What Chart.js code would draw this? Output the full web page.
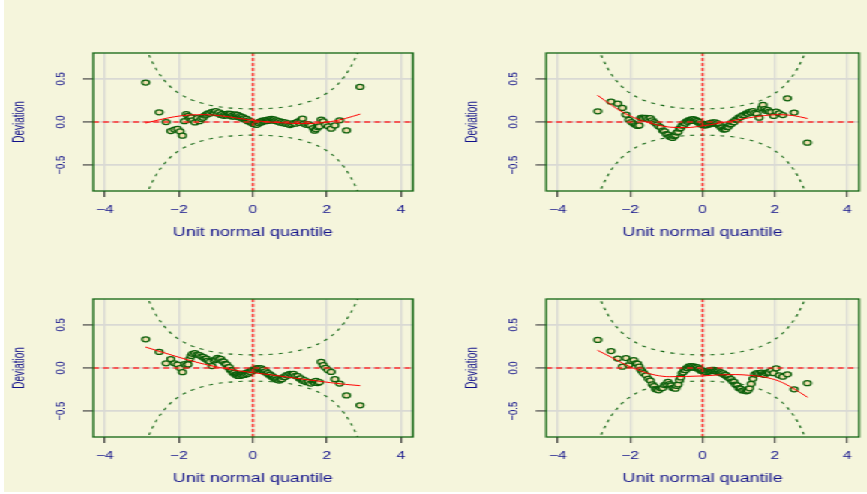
<!DOCTYPE html>
<html>
<head>
<meta charset="utf-8">
<title>Worm plots</title>
<script src="https://cdn.jsdelivr.net/npm/chart.js@4.4.1/dist/chart.umd.min.js"></script>
<style>
  html, body { margin: 0; padding: 0; background: #ffffff; overflow: hidden; }
  #page { position: absolute; left: 0; top: 0; width: 867px; height: 494px; }
  #bg { position: absolute; left: 4px; top: 0; width: 863px; height: 492px; background: #f5f5dc; }
  /* the panels are laid out on a 578px-wide stage that is widened 1.5x */
  #stage { position: absolute; left: 0; top: 0; width: 578px; height: 494px;
           transform: scaleX(1.5); transform-origin: 0 0; }
  #stage canvas { position: absolute; }
</style>
</head>
<body>
<div id="page">
  <div id="bg"></div>
  <div id="stage">
    <canvas id="wp1" width="289" height="247" style="left:0px;top:0px"></canvas>
    <canvas id="wp2" width="289" height="247" style="left:289px;top:0px"></canvas>
    <canvas id="wp3" width="289" height="247" style="left:0px;top:247px"></canvas>
    <canvas id="wp4" width="289" height="247" style="left:289px;top:247px"></canvas>
  </div>
</div>
<script>
// Axis setup
const xTicks = [-4, -2, 0, 2, 4];
const xTickLabels = ['\u22124', '\u22122', '0', '2', '4'];
const yTicks = [-0.5, 0, 0.5];
const yTickLabels = ['\u22120.5', '0.0', '0.5'];
const xRange = [-4.32, 4.32];
const yRange = [-0.8, 0.8];

// Unit normal quantiles of the ordered residuals (shared by all four panels)
const zq = [
  -2.894, -2.529, -2.343, -2.215, -2.116, -2.034, -1.963, -1.901, -1.846, -1.796,
  -1.750, -1.707, -1.668, -1.630, -1.562, -1.500, -1.444, -1.391, -1.342, -1.297,
  -1.254, -1.213, -1.155, -1.101, -1.050, -1.001, -0.955, -0.911, -0.868, -0.827,
  -0.787, -0.748, -0.711, -0.674, -0.639, -0.604, -0.570, -0.536, -0.504, -0.471,
  -0.440, -0.408, -0.377, -0.347, -0.316, -0.286, -0.256, -0.227, -0.197, -0.168,
  -0.139, -0.110, -0.081, -0.053, -0.024,
   0.024,  0.053,  0.081,  0.110,  0.139,  0.168,  0.197,  0.227,  0.256,  0.286,
   0.316,  0.347,  0.377,  0.408,  0.440,  0.471,  0.504,  0.536,  0.570,  0.604,
   0.639,  0.674,  0.711,  0.748,  0.787,  0.827,  0.868,  0.911,  0.955,  1.001,
   1.050,  1.101,  1.155,  1.213,  1.254,  1.297,  1.342,  1.391,  1.444,  1.500,
   1.562,  1.630,  1.668,  1.707,  1.750,  1.796,  1.846,  1.901,  1.963,  2.034,
   2.116,  2.215,  2.343,  2.529,  2.894
];

// Deviations (empirical minus unit normal quantile), one array per panel
const dev1 = [
   0.457,  0.112,  0.000, -0.105, -0.088, -0.080, -0.110, -0.158,  0.010,  0.090,
   0.070,  0.040,  0.055,  0.020, -0.005,  0.045,  0.010,  0.035,  0.050,  0.075,
   0.085,  0.100,  0.098,  0.118,  0.110,  0.125,  0.100,  0.112,  0.082,  0.095,
   0.072,  0.088,  0.075,  0.098,  0.085,  0.095,  0.065,  0.080,  0.062,  0.088,
   0.070,  0.082,  0.055,  0.068,  0.048,  0.058,  0.035,  0.045,  0.022,  0.035,
   0.010,  0.020,  0.000,  0.008, -0.015,
  -0.022, -0.030, -0.020, -0.032, -0.008, -0.015,  0.005, -0.005,  0.015,  0.005,
   0.020,  0.010,  0.025,  0.012,  0.030,  0.018,  0.035,  0.022,  0.030,  0.012,
   0.020,  0.002,  0.010, -0.008,  0.002, -0.015, -0.005, -0.022, -0.015, -0.035,
  -0.025, -0.012, -0.020,  0.005, -0.010,  0.022,  0.038, -0.020, -0.032, -0.025,
  -0.042, -0.070, -0.100, -0.085, -0.060, -0.052,  0.027,  0.008, -0.030, -0.050,
  -0.078, -0.040,  0.020, -0.098,  0.407
];
const dev2 = [
   0.124,  0.236,  0.213,  0.163,  0.085,  0.025,  0.000, -0.020, -0.035, -0.045,
  -0.040,  0.045,  0.050,  0.040,  0.048,  0.035,  0.045,  0.020,  0.000, -0.015,
  -0.030, -0.050, -0.062, -0.100, -0.108, -0.142, -0.145, -0.172, -0.168, -0.185,
  -0.165, -0.155, -0.122, -0.115, -0.078, -0.070, -0.042, -0.040, -0.012, -0.018,
   0.008,  0.002,  0.022,  0.012,  0.030,  0.018,  0.032,  0.015,  0.025,  0.005,
   0.012, -0.008, -0.002, -0.028, -0.020,
  -0.040, -0.030, -0.040, -0.025, -0.034, -0.018, -0.026, -0.010, -0.018, -0.004,
  -0.014, -0.004, -0.022, -0.016, -0.036, -0.034, -0.062, -0.064, -0.088, -0.082,
  -0.085, -0.060, -0.056, -0.030, -0.026, -0.002, -0.002,  0.026,  0.030,  0.054,
   0.055,  0.078,  0.080,  0.100,  0.098,  0.118,  0.110,  0.125,  0.105,  0.095,
   0.050,  0.160,  0.198,  0.150,  0.130,  0.140,  0.120,  0.115,  0.070,  0.120,
   0.100,  0.080,  0.275,  0.109, -0.240
];
const dev3 = [
   0.333,  0.186,  0.054,  0.103,  0.054,  0.040,  0.000, -0.048,  0.045,  0.030,
   0.042,  0.105,  0.140,  0.165,  0.172,  0.155,  0.150,  0.132,  0.130,  0.108,
   0.110,  0.085,  0.075,  0.022,  0.088,  0.100,  0.118,  0.102,  0.105,  0.078,
   0.075,  0.048,  0.042,  0.008,  0.010, -0.025, -0.028, -0.058, -0.055, -0.078,
  -0.075, -0.092, -0.080, -0.092, -0.075, -0.085, -0.068, -0.080, -0.060, -0.072,
  -0.052, -0.065, -0.040, -0.048, -0.025,
  -0.030, -0.010, -0.018,  0.000, -0.010,  0.000, -0.015, -0.005, -0.028, -0.020,
  -0.045, -0.038, -0.062, -0.058, -0.082, -0.078, -0.100, -0.098, -0.120, -0.115,
  -0.135, -0.128, -0.145, -0.130, -0.130, -0.105, -0.105, -0.082, -0.088, -0.068,
  -0.078, -0.068, -0.092, -0.095, -0.122, -0.120, -0.148, -0.142, -0.165, -0.160,
  -0.180, -0.160, -0.172, -0.150, -0.175, -0.165,  0.070,  0.032,  0.002, -0.025,
  -0.046, -0.130, -0.180, -0.318, -0.433
];
const dev4 = [
   0.325,  0.197,  0.110,  0.015,  0.115,  0.034,  0.080,  0.090,  0.055,  0.050,
   0.015, -0.020, -0.040, -0.060, -0.085, -0.125, -0.145, -0.190, -0.210, -0.245,
  -0.250, -0.258, -0.235, -0.232, -0.198, -0.188, -0.160, -0.188, -0.200, -0.232,
  -0.228, -0.240, -0.208, -0.190, -0.142, -0.110, -0.062, -0.050, -0.022, -0.025,
   0.000, -0.002,  0.020,  0.008,  0.022,  0.006,  0.018,  0.002,  0.014, -0.004,
   0.006, -0.012, -0.008, -0.032, -0.028,
  -0.042, -0.050, -0.040, -0.048, -0.032, -0.042, -0.028, -0.036, -0.022, -0.032,
  -0.022, -0.038, -0.030, -0.046, -0.038, -0.056, -0.050, -0.068, -0.062, -0.082,
  -0.080, -0.100, -0.102, -0.126, -0.128, -0.156, -0.162, -0.194, -0.200, -0.234,
  -0.238, -0.262, -0.258, -0.270, -0.262, -0.235, -0.185, -0.125, -0.075, -0.060,
  -0.065, -0.055, -0.070, -0.080, -0.058, -0.050, -0.055, -0.030, -0.060, -0.004,
  -0.085, -0.100, -0.073, -0.247, -0.176
];

// Fitted worm curves
const fitZ = [-2.9, -2.5, -2.1, -1.7, -1.3, -0.9, -0.45, 0, 0.45, 0.9, 1.3, 1.7, 2.1, 2.5, 2.9];
const fit1 = [-0.012, 0.028, 0.062, 0.082, 0.085, 0.074, 0.047, 0.019, 0.000, -0.012, -0.019, -0.014, 0.004, 0.041, 0.092];
const fit2 = [0.310, 0.190, 0.090, 0.020, -0.030, -0.060, -0.065, -0.045, -0.015, 0.020, 0.050, 0.075, 0.085, 0.075, 0.040];
const fit3 = [0.243, 0.190, 0.138, 0.087, 0.043, 0.006, -0.028, -0.054, -0.077, -0.103, -0.127, -0.148, -0.170, -0.190, -0.205];
const fit4 = [0.205, 0.120, 0.033, -0.036, -0.083, -0.101, -0.098, -0.092, -0.080, -0.076, -0.085, -0.105, -0.150, -0.235, -0.340];

// 95% pointwise confidence band half-width
const bandZ = [-3.0, -2.85, -2.75, -2.625, -2.5, -2.25, -2.0, -1.75, -1.5, -1.25, -1.0, -0.75, -0.5, -0.25, 0,
               0.25, 0.5, 0.75, 1.0, 1.25, 1.5, 1.75, 2.0, 2.25, 2.5, 2.625, 2.75, 2.85, 3.0];
const bandUpper = [1.003, 0.823, 0.726, 0.625, 0.543, 0.419, 0.334, 0.275, 0.234, 0.204, 0.183, 0.168, 0.159, 0.154, 0.152,
                   0.154, 0.159, 0.168, 0.183, 0.204, 0.234, 0.275, 0.334, 0.419, 0.543, 0.625, 0.726, 0.823, 1.003];

const FONT = "'Liberation Sans', Arial, Helvetica, sans-serif";
const INK = '#10108a';

// dark green box round each plot region
const frame = {
  id: 'frame',
  afterDatasetsDraw(chart) {
    const { ctx, chartArea: a } = chart;
    ctx.save();
    ctx.strokeStyle = '#116511';
    ctx.lineWidth = 1.3;
    ctx.strokeRect(a.left, a.top, a.right - a.left, a.bottom - a.top);
    ctx.restore();
  }
};

// y tick labels written parallel to the axis, centred on each tick
const yTickText = {
  id: 'yTickText',
  afterDraw(chart) {
    const { ctx, chartArea: a } = chart;
    const ys = chart.scales.y;
    ctx.save();
    ctx.fillStyle = INK;
    ctx.font = '9.5px ' + FONT;
    ctx.textAlign = 'center';
    ctx.textBaseline = 'middle';
    yTicks.forEach((v, i) => {
      ctx.save();
      ctx.translate(a.left - 22, ys.getPixelForValue(v));
      ctx.rotate(-Math.PI / 2);
      ctx.fillText(yTickLabels[i], 0, 0);
      ctx.restore();
    });
    ctx.restore();
  }
};

function xy(xs, ys) { return xs.map((x, i) => ({ x: x, y: ys[i] })); }

function wormPanel(id, dev, fit, pad) {
  const bandLower = bandUpper.map(v => -v);
  new Chart(document.getElementById(id), {
    type: 'scatter',
    data: {
      datasets: [
        { data: [{ x: 0, y: yRange[0] }, { x: 0, y: yRange[1] }], showLine: true,
          borderColor: 'rgba(255,20,20,0.9)', borderWidth: 1.5, borderDash: [3, 2],
          pointRadius: 0, order: 0 },
        { data: [{ x: xRange[0], y: 0 }, { x: xRange[1], y: 0 }], showLine: true,
          borderColor: 'rgba(255,25,25,0.9)', borderWidth: 1.3, borderDash: [4, 2.7],
          pointRadius: 0, order: 1 },
        { data: xy(fitZ, fit), showLine: true, borderColor: '#ff0000', borderWidth: 1,
          cubicInterpolationMode: 'monotone', pointRadius: 0, order: 2 },
        { data: xy(bandZ, bandUpper), showLine: true, borderColor: '#1a6b1a', borderWidth: 1.1,
          borderDash: [2.7, 4], cubicInterpolationMode: 'monotone', pointRadius: 0, order: 3 },
        { data: xy(bandZ, bandLower), showLine: true, borderColor: '#1a6b1a', borderWidth: 1.1,
          borderDash: [2.7, 4], cubicInterpolationMode: 'monotone', pointRadius: 0, order: 4 },
        { data: xy(zq, dev), pointRadius: 2.5, pointBorderWidth: 1.25,
          pointBackgroundColor: '#f2dfb0', pointBorderColor: '#0b5f0b', order: 5 }
      ]
    },
    options: {
      responsive: false,
      animation: false,
      devicePixelRatio: 1,
      layout: { padding: pad },
      plugins: { legend: { display: false }, tooltip: { enabled: false } },
      scales: {
        x: {
          type: 'linear', min: xRange[0], max: xRange[1],
          afterBuildTicks: s => { s.ticks = xTicks.map(v => ({ value: v })); },
          afterFit: s => { s.height = 56; s.paddingLeft = 0; s.paddingRight = 0; },
          border: { display: false },
          grid: { color: '#d9d9d4', lineWidth: 1.3, tickColor: '#333333', tickLength: 6, tickWidth: 1 },
          ticks: { callback: (v, i) => xTickLabels[i], color: INK, font: { family: FONT, size: 10.5 },
                   padding: 7, maxRotation: 0, autoSkip: false },
          title: { display: true, text: 'Unit normal quantile', color: INK,
                   font: { family: FONT, size: 12 }, padding: { top: 0, bottom: 7 } }
        },
        y: {
          type: 'linear', min: yRange[0], max: yRange[1],
          afterBuildTicks: s => { s.ticks = yTicks.map(v => ({ value: v })); },
          afterFit: s => { s.width = 62; s.paddingTop = 0; s.paddingBottom = 0; },
          border: { display: false },
          grid: { color: '#d9d9d4', lineWidth: 1.8, tickColor: '#555555', tickLength: 7, tickWidth: 1.3 },
          ticks: { display: false },
          title: { display: true, text: 'Deviation', color: INK,
                   font: { family: FONT, size: 10 }, padding: { top: 7.1, bottom: 0 } }
        }
      }
    },
    plugins: [frame, yTickText]
  });
}

wormPanel('wp1', dev1, fit1, { left: 0,    right: 13.7, top: 53, bottom: 0 });
wormPanel('wp2', dev2, fit2, { left: 13.2, right: 0.7,  top: 53, bottom: 0 });
wormPanel('wp3', dev3, fit3, { left: 0,    right: 13.7, top: 52, bottom: 1 });
wormPanel('wp4', dev4, fit4, { left: 13.2, right: 0.7,  top: 52, bottom: 1 });
</script>
</body>
</html>
